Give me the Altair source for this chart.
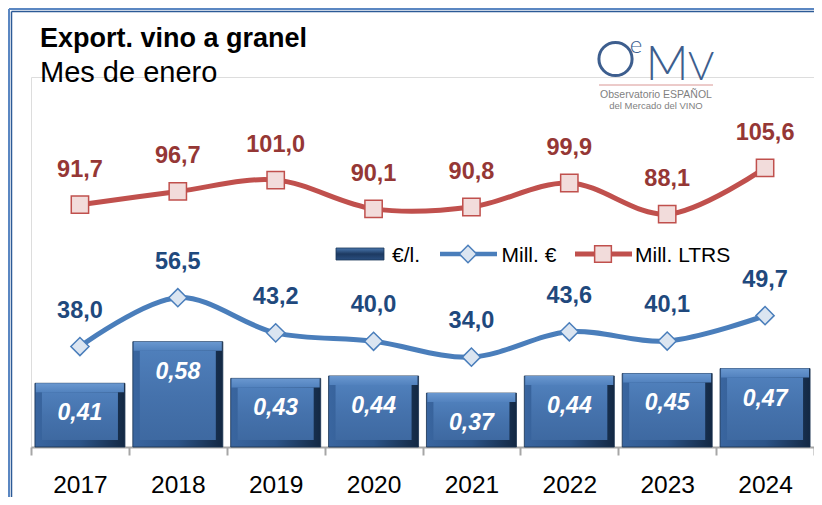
import altair as alt
import pandas as pd

# ---- data ----
years = ["2017", "2018", "2019", "2020", "2021", "2022", "2023", "2024"]
eur_litro = [0.41, 0.58, 0.43, 0.44, 0.37, 0.44, 0.45, 0.47]      # €/l. (bars)
mill_eur = [38.0, 56.5, 43.2, 40.0, 34.0, 43.6, 40.1, 49.7]       # Mill. € (blue line)
mill_litros = [91.7, 96.7, 101.0, 90.1, 90.8, 99.9, 88.1, 105.6]  # Mill. LTRS (red line)


def es(v, d):
    return f"{v:.{d}f}".replace(".", ",")


df = pd.DataFrame({
    "year": years,
    "precio": eur_litro,
    "valor": mill_eur,
    "volumen": mill_litros,
})
df["precio_lbl"] = [es(v, 2) for v in eur_litro]
df["valor_lbl"] = [es(v, 1) for v in mill_eur]
df["volumen_lbl"] = [es(v, 1) for v in mill_litros]

one = pd.DataFrame({"k": [0]})

FONT = "Liberation Sans"
W, H = 783, 370
BAR_DOM = [0.1496, 1.6617]
LINE_DOM = [0, 140]

x_enc = alt.X(
    "year:N", sort=years,
    scale=alt.Scale(paddingInner=0, paddingOuter=0),
    axis=alt.Axis(title=None, labelAngle=0, labelFont=FONT, labelFontSize=24.5,
                  labelColor="#000000", labelPadding=18.5, tickBand="extent",
                  tickSize=8, tickColor="#a6a6a6", tickWidth=2,
                  domainColor="#a6a6a6", domainWidth=2, grid=False),
)

yb = alt.Y("precio:Q", scale=alt.Scale(domain=BAR_DOM, zero=False, nice=False), axis=None)
base = alt.Chart(df)

# ---- bevelled bars ----
bar_outer = base.mark_bar(
    size=90, stroke="#17304f", strokeWidth=0.8,
    color=alt.Gradient(gradient="linear", x1=0, x2=1, y1=0, y2=0, stops=[
        alt.GradientStop(color="#3a66a0", offset=0),
        alt.GradientStop(color="#2c5488", offset=0.5),
        alt.GradientStop(color="#132843", offset=1),
    ]),
).encode(x=x_enc, y=yb, y2=alt.datum(BAR_DOM[0]))

bar_top = base.mark_bar(
    size=88, y2Offset=9,
    color=alt.Gradient(gradient="linear", x1=0, x2=0, y1=0, y2=1, stops=[
        alt.GradientStop(color="#6a98d0", offset=0),
        alt.GradientStop(color="#5282be", offset=1),
    ]),
).encode(x=x_enc, y=yb, y2=alt.Y2("precio:Q"))

bar_face = base.mark_bar(
    size=76, yOffset=9, y2Offset=-7,
    color=alt.Gradient(gradient="linear", x1=0, x2=0, y1=0, y2=1, stops=[
        alt.GradientStop(color="#4f7fbb", offset=0),
        alt.GradientStop(color="#4572ac", offset=0.5),
        alt.GradientStop(color="#3e69a1", offset=1),
    ]),
).encode(x=x_enc, y=yb, y2=alt.datum(BAR_DOM[0]))

bar_text = base.mark_text(
    font=FONT, fontSize=23, fontWeight="bold", fontStyle="italic",
    color="white", baseline="middle", dy=30,
).encode(x=x_enc, y=yb, text="precio_lbl:N")

# ---- lines ----
yv = alt.Y("valor:Q", scale=alt.Scale(domain=LINE_DOM, nice=False), axis=None)
yl = alt.Y("volumen:Q", scale=alt.Scale(domain=LINE_DOM, nice=False), axis=None)

blue_line = base.mark_line(interpolate="catmull-rom", color="#4a7ebb", strokeWidth=5).encode(x=x_enc, y=yv)
blue_pts = base.mark_point(shape="diamond", filled=True, fill="#dbe5f1", stroke="#4a7ebb",
                           strokeWidth=1.5, size=330, opacity=1).encode(x=x_enc, y=yv)
blue_txt = base.mark_text(font=FONT, fontSize=23.5, fontWeight="bold", color="#1f497d",
                          baseline="middle", dy=-36).encode(x=x_enc, y=yv, text="valor_lbl:N")

red_line = base.mark_line(interpolate="catmull-rom", color="#c0504d", strokeWidth=5).encode(x=x_enc, y=yl)
red_pts = base.mark_point(shape="square", filled=True, fill="#f2dcdb", stroke="#c0504d",
                          strokeWidth=1.5, size=300, opacity=1).encode(x=x_enc, y=yl)
red_txt = base.mark_text(font=FONT, fontSize=23.5, fontWeight="bold", color="#953735",
                         baseline="middle", dy=-35).encode(x=x_enc, y=yl, text="volumen_lbl:N")

# ---- custom legend ----
o = alt.Chart(one)
leg_bar = o.mark_rect(
    stroke="#1b3556", strokeWidth=0.8,
    color=alt.Gradient(gradient="linear", x1=0, x2=0, y1=0, y2=1, stops=[
        alt.GradientStop(color="#4a78b0", offset=0),
        alt.GradientStop(color="#1d3a61", offset=0.5),
        alt.GradientStop(color="#2a4f80", offset=1),
    ]),
).encode(x=alt.value(305), x2=alt.value(353), y=alt.value(171), y2=alt.value(183))
leg_bar_t = o.mark_text(text="€/l.", font=FONT, fontSize=21, align="left", baseline="alphabetic",
                        color="#000000").encode(x=alt.value(361), y=alt.value(185))
leg_blue = o.mark_rule(color="#4a7ebb", strokeWidth=4.5).encode(
    x=alt.value(409), x2=alt.value(466), y=alt.value(177))
leg_blue_p = o.mark_point(shape="diamond", filled=True, fill="#dbe5f1", stroke="#4a7ebb",
                          strokeWidth=1.5, size=300, opacity=1).encode(x=alt.value(437), y=alt.value(177))
leg_blue_t = o.mark_text(text="Mill. €", font=FONT, fontSize=21, align="left", baseline="alphabetic",
                         color="#000000").encode(x=alt.value(470.5), y=alt.value(185))
leg_red = o.mark_rule(color="#c0504d", strokeWidth=5).encode(
    x=alt.value(544), x2=alt.value(601), y=alt.value(177))
leg_red_p = o.mark_point(shape="square", filled=True, fill="#f2dcdb", stroke="#c0504d",
                         strokeWidth=1.5, size=280, opacity=1).encode(x=alt.value(572), y=alt.value(177))
leg_red_t = o.mark_text(text="Mill. LTRS", font=FONT, fontSize=21, align="left", baseline="alphabetic",
                        color="#000000").encode(x=alt.value(604), y=alt.value(185))

# ---- titles ----
title = o.mark_text(text="Export. vino a granel", font=FONT, fontSize=27, fontWeight="bold",
                    align="left", baseline="alphabetic", color="#000000").encode(
    x=alt.value(9), y=alt.value(-30.5))
subtitle = o.mark_text(text="Mes de enero", font=FONT, fontSize=29, align="left",
                       baseline="alphabetic", color="#000000").encode(x=alt.value(9), y=alt.value(4.7))

# ---- logo ----
LOGO = "#3d5e8e"
logo_o = o.mark_point(shape="circle", filled=False, stroke=LOGO, strokeWidth=3, size=1100,
                      opacity=1).encode(x=alt.value(584.5), y=alt.value(-18))
logo_e = o.mark_text(text="e", font="Lato", fontWeight=300, fontSize=24, color=LOGO,
                     align="center", baseline="alphabetic").encode(x=alt.value(605), y=alt.value(-24))
logo_m = o.mark_text(text="M", font="Lato", fontWeight=300, fontSize=47, color=LOGO,
                     align="center", baseline="alphabetic").encode(x=alt.value(636), y=alt.value(3))
logo_v = o.mark_text(text="V", font="Lato", fontWeight=300, fontSize=40, color=LOGO,
                     align="center", baseline="alphabetic").encode(x=alt.value(670), y=alt.value(3))
logo_line = o.mark_rule(color="#d99694", strokeWidth=1).encode(
    x=alt.value(568), x2=alt.value(682), y=alt.value(8))
logo_t1 = o.mark_text(text="Observatorio ESPAÑOL", font=FONT, fontSize=10.5, color="#7f7f7f",
                      align="center", baseline="alphabetic").encode(x=alt.value(625), y=alt.value(21))
logo_t2 = o.mark_text(text="del Mercado del VINO", font=FONT, fontSize=9.5, color="#7f7f7f",
                      align="center", baseline="alphabetic").encode(x=alt.value(625), y=alt.value(32))

# ---- frame (double border, top and left) ----
fr1 = o.mark_rule(color="#5b87c2", strokeWidth=2).encode(x=alt.value(-22), x2=alt.value(783), y=alt.value(-68))
fr2 = o.mark_rule(color="#2c5a96", strokeWidth=1.5).encode(x=alt.value(-19.5), x2=alt.value(783), y=alt.value(-65.5))
fr3 = o.mark_rule(color="#5b87c2", strokeWidth=2).encode(x=alt.value(-22), y=alt.value(-68), y2=alt.value(430))
fr4 = o.mark_rule(color="#2c5a96", strokeWidth=1.5).encode(x=alt.value(-19.5), y=alt.value(-65.5), y2=alt.value(430))

chart = alt.layer(
    bar_outer, bar_top, bar_face, bar_text,
    blue_line, blue_pts, blue_txt,
    red_line, red_pts, red_txt,
    leg_bar, leg_bar_t, leg_blue, leg_blue_p, leg_blue_t, leg_red, leg_red_p, leg_red_t,
    title, subtitle,
    logo_o, logo_e, logo_m, logo_v, logo_line, logo_t1, logo_t2,
    fr1, fr2, fr3, fr4,
).resolve_scale(y="independent").properties(
    width=W, height=H,
    padding={"left": 23, "top": 69, "right": 0, "bottom": 50},
    autosize=alt.AutoSizeParams(type="none"),
).configure_view(strokeWidth=0).configure(background="white")

chart.save("out.html", embed_options={"renderer": "svg", "actions": False})
